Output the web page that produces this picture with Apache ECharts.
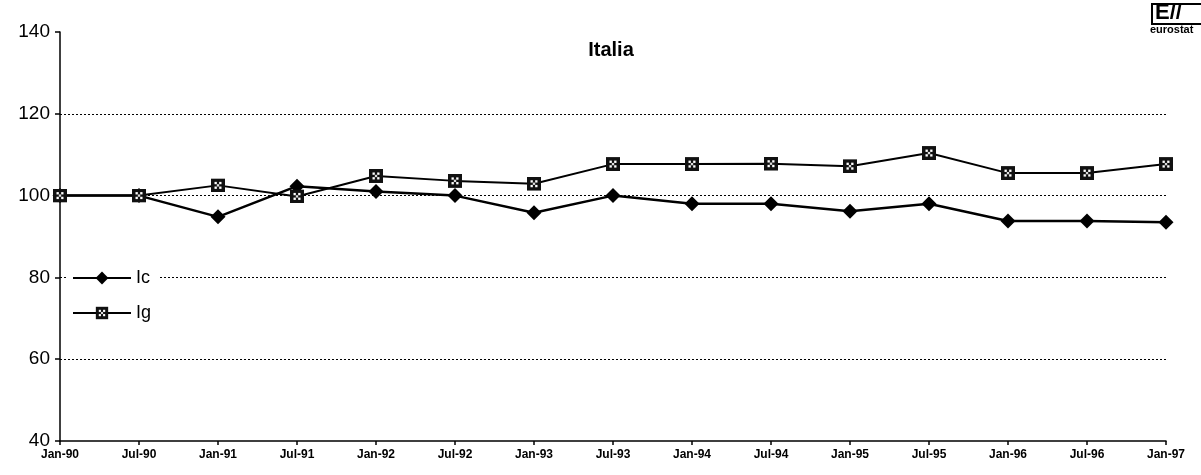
<!DOCTYPE html>
<html>
<head>
<meta charset="utf-8">
<script src="https://cdn.jsdelivr.net/npm/echarts@6/dist/echarts.min.js"></script>
<style>
  html, body { margin: 0; padding: 0; background: #fff; }
  #chart { width: 1201px; height: 475px; }
</style>
</head>
<body>
<div id="chart"></div>
<script>
const months = ['Jan-90', 'Jul-90', 'Jan-91', 'Jul-91', 'Jan-92', 'Jul-92', 'Jan-93', 'Jul-93',
  'Jan-94', 'Jul-94', 'Jan-95', 'Jul-95', 'Jan-96', 'Jul-96', 'Jan-97']
const ic = [100, 100, 94.8, 102.3, 101, 100, 95.8, 100, 98, 98, 96.2, 98, 93.8, 93.8, 93.5]
const ig = [100, 100, 102.5, 99.8, 104.8, 103.6, 102.9, 107.7, 107.7, 107.8, 107.2, 110.4, 105.5, 105.5, 107.7]

// black square with a few white dots, as an inline svg
const dotSvg = '<svg xmlns="http://www.w3.org/2000/svg" width="12" height="12" viewBox="0 0 12 12">' +
  '<rect width="12" height="12" fill="#111"/>' +
  '<rect x="3" y="3" width="2" height="2" fill="#fff"/><rect x="7" y="3" width="2" height="2" fill="#fff"/>' +
  '<rect x="5" y="5" width="2" height="2" fill="#ddd"/>' +
  '<rect x="3" y="7" width="2" height="2" fill="#fff"/><rect x="7" y="7" width="2" height="2" fill="#fff"/></svg>'
const dotSquare = 'image://data:image/svg+xml;charset=utf-8,' + encodeURIComponent(dotSvg)

const chart = echarts.init(document.getElementById('chart'))

const option = {
  animation: false,
  title: {
    text: 'Italia',
    left: 606,
    textAlign: 'center',
    top: 35,
    textStyle: { fontFamily: 'Liberation Sans', fontSize: 20, fontWeight: 'bold', color: '#000' },
  },
  legend: {
    orient: 'vertical',
    left: 68,
    top: 265,
    padding: [4, 8, 4, 4],
    backgroundColor: '#fff',
    itemWidth: 58,
    itemHeight: 16,
    itemGap: 17,
    textStyle: { fontFamily: 'Liberation Sans', fontSize: 18, color: '#000' },
    data: ['Ic', 'Ig'],
  },
  grid: { left: 60, right: 35, top: 32, bottom: 34 },
  xAxis: {
    type: 'category',
    data: months,
    boundaryGap: false,
    axisLine: { lineStyle: { color: '#000', width: 1.5 } },
    axisTick: { show: true, length: 4, lineStyle: { color: '#000', width: 1.5 } },
    axisLabel: {
      fontFamily: 'Liberation Sans', fontSize: 12, fontWeight: 'bold', color: '#000', margin: 8,
      interval: 0,
    },
  },
  yAxis: {
    type: 'value',
    min: 40,
    max: 140,
    interval: 20,
    axisLine: { show: true, lineStyle: { color: '#000', width: 1.5 } },
    axisTick: { show: true, length: 5, lineStyle: { color: '#000', width: 1.5 } },
    axisLabel: { fontFamily: 'Liberation Sans', fontSize: 19, color: '#000', margin: 10 },
    splitLine: {
      show: true,
      showMinLine: false,
      showMaxLine: false,
      lineStyle: { color: '#000', type: [2, 2], width: 1 },
    },
  },
  series: [
    {
      name: 'Ic',
      type: 'line',
      data: ic,
      symbol: 'diamond',
      symbolSize: 15,
      lineStyle: { color: '#000', width: 2.5 },
      itemStyle: { color: '#000' },
    },
    {
      name: 'Ig',
      type: 'line',
      data: ig,
      symbol: dotSquare,
      symbolSize: 14,
      lineStyle: { color: '#000', width: 2 },
      itemStyle: { color: '#111' },
    },
  ],
  graphic: [
    {
      type: 'rect',
      left: 1151,
      top: 3,
      shape: { width: 50, height: 20 },
      style: { fill: '#fff', stroke: '#000', lineWidth: 2 },
    },
    {
      type: 'text',
      left: 1155,
      top: 2,
      style: { text: 'E//', fontFamily: 'Liberation Sans', fontSize: 22, fontWeight: 'bold', fill: '#000' },
    },
    {
      type: 'text',
      left: 1150,
      top: 24,
      style: { text: 'eurostat', fontFamily: 'Liberation Sans', fontSize: 11, fontWeight: 'bold', fill: '#000' },
    },
  ],
}

chart.setOption(option)
</script>
</body>
</html>
